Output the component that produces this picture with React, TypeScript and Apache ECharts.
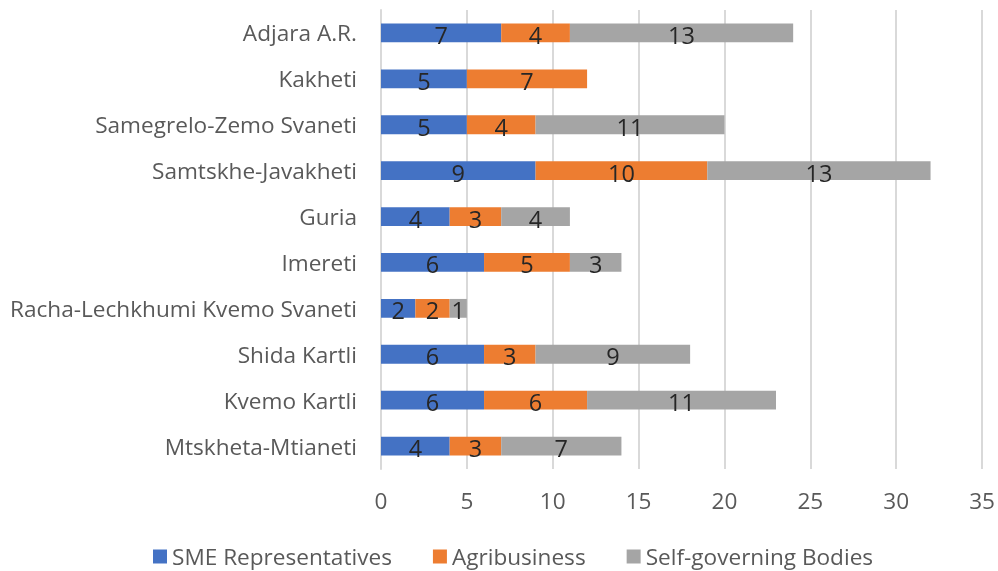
import React, { useEffect, useRef } from "react";
import * as echarts from "echarts";

const categories = [
  "Mtskheta-Mtianeti",
  "Kvemo Kartli",
  "Shida Kartli",
  "Racha-Lechkhumi Kvemo Svaneti",
  "Imereti",
  "Guria",
  "Samtskhe-Javakheti",
  "Samegrelo-Zemo Svaneti",
  "Kakheti",
  "Adjara A.R.",
];
const smeValues = [4, 6, 6, 2, 6, 4, 9, 5, 5, 7];
const agriValues = [3, 6, 3, 2, 5, 3, 10, 4, 7, 4];
const selfGovValues = [7, 11, 9, 1, 3, 4, 13, 11, null, 13];
const seriesNames = ["SME Representatives", "Agribusiness", "Self-governing Bodies"];
const colors = ["#4472C4", "#ED7D31", "#A5A5A5"];

const FONT = "'Open Sans', sans-serif";
const FS = 22.6;

export default function App() {
  const ref = useRef<HTMLDivElement>(null);
  useEffect(() => {
    if (!ref.current) return;
    const chart = echarts.init(ref.current, undefined, { renderer: "svg" });
    const mk = (name: string, data: (number | null)[], color: string) => ({
      name,
      type: "bar",
      stack: "total",
      data,
      barWidth: "41%",
      itemStyle: { color },
      label: {
        show: true,
        position: "inside",
        color: "#262626",
        fontSize: 23.5,
        fontFamily: FONT,
        offset: [0, 2],
      },
    });
    chart.setOption({
      animation: false,
      textStyle: { fontFamily: FONT },
      grid: { left: 381, right: 13, top: 10, bottom: 102, containLabel: false },
      legend: {
        top: 540,
        left: 148,
        itemWidth: 14,
        itemHeight: 14,
        itemGap: 41,
        icon: "rect",
        textStyle: { fontSize: FS, color: "#595959", fontFamily: FONT },
        data: seriesNames,
      },
      xAxis: {
        type: "value",
        min: 0,
        max: 35,
        interval: 5,
        axisLine: { show: false },
        axisTick: { show: false },
        splitLine: { lineStyle: { color: "#D9D9D9", width: 2 } },
        axisLabel: { fontSize: FS, color: "#595959", margin: 20, fontFamily: FONT },
      },
      yAxis: {
        type: "category",
        data: categories,
        axisLine: { show: true, lineStyle: { color: "#D9D9D9", width: 2 } },
        axisTick: { show: false },
        axisLabel: { fontSize: FS, color: "#595959", margin: 24, fontFamily: FONT },
      },
      series: [
        mk(seriesNames[0], smeValues, colors[0]),
        mk(seriesNames[1], agriValues, colors[1]),
        mk(seriesNames[2], selfGovValues, colors[2]),
      ],
    });
    return () => chart.dispose();
  }, []);
  return <div ref={ref} style={{ width: 998, height: 571, position: "fixed", left: 0, top: 0 }} />;
}
